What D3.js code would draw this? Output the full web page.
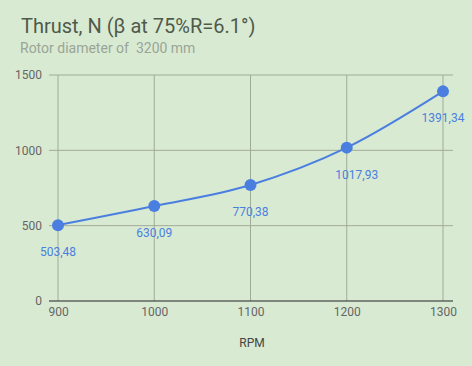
<!DOCTYPE html>
<html>
<head>
<meta charset="utf-8">
<script src="https://cdn.jsdelivr.net/npm/d3@7"></script>
<style>
  body { margin: 0; background: #d9ead3; }
  svg { display: block; font-family: Roboto, sans-serif; }
  text { white-space: pre; }
</style>
</head>
<body>
<svg width="472" height="366"></svg>
<script>
// data
let rpm = [900, 1000, 1100, 1200, 1300];
let thrust = [503.48, 630.09, 770.38, 1017.93, 1391.34];
let thrustLabels = ['503,48', '630,09', '770,38', '1017,93', '1391,34'];
let yTicks = [0, 500, 1000, 1500];
let xTicks = [900, 1000, 1100, 1200, 1300];

let svg = d3.select('svg');
let plotLeft = 58, plotRight = 443, plotTop = 75, plotBottom = 301;

let xScale = d3.scaleLinear().domain([900, 1300]).range([plotLeft, plotRight]);
let yScale = d3.scaleLinear().domain([0, 1500]).range([plotBottom, plotTop]);

svg.append('rect').attr('width', 472).attr('height', 366).attr('fill', '#d9ead3');

// title
svg.append('text').attr('x', 21).attr('y', 33)
  .attr('font-size', 20).attr('fill', '#4f5a4b')
  .text('Thrust, N (β at 75%R=6.1°)');
svg.append('text').attr('x', 20).attr('y', 53)
  .attr('font-size', 14).attr('fill', '#9aa596')
  .text('Rotor diameter of  3200 mm');

// grid
let grid = svg.append('g');
grid.selectAll('.hg').data(yTicks.filter(d => d > 0)).enter().append('line')
  .attr('x1', 49).attr('x2', 453)
  .attr('y1', d => yScale(d)).attr('y2', d => yScale(d))
  .attr('stroke', '#a0ab98').attr('stroke-width', 1);
grid.selectAll('.vg').data(xTicks).enter().append('line')
  .attr('x1', d => xScale(d)).attr('x2', d => xScale(d))
  .attr('y1', plotTop).attr('y2', plotBottom)
  .attr('stroke', '#a0ab98').attr('stroke-width', 1);

// zero axis line
svg.append('line').attr('x1', 49).attr('x2', 453)
  .attr('y1', yScale(0)).attr('y2', yScale(0))
  .attr('stroke', '#222').attr('stroke-width', 1.2);

// y axis
let yAxis = svg.append('g').attr('transform', 'translate(' + plotLeft + ',0)')
  .call(d3.axisLeft(yScale).tickValues(yTicks).tickFormat(d3.format('d')).tickSize(0).tickPadding(16));
yAxis.select('.domain').remove();
yAxis.selectAll('text').attr('font-size', 12).attr('fill', '#666').attr('font-family', 'Roboto, sans-serif');

// x axis
let xAxis = svg.append('g').attr('transform', 'translate(0,' + plotBottom + ')')
  .call(d3.axisBottom(xScale).tickValues(xTicks).tickFormat(d3.format('d')).tickSize(0).tickPadding(6));
xAxis.select('.domain').remove();
xAxis.selectAll('text').attr('font-size', 12).attr('fill', '#666').attr('font-family', 'Roboto, sans-serif');

svg.append('text').attr('x', 252).attr('y', 347).attr('text-anchor', 'middle')
  .attr('font-size', 12).attr('fill', '#444').text('RPM');

// line
let pts = rpm.map((r, i) => [r, thrust[i]]);
let line = d3.line().x(d => xScale(d[0])).y(d => yScale(d[1])).curve(d3.curveMonotoneX);
svg.append('path').datum(pts).attr('d', line)
  .attr('fill', 'none').attr('stroke', '#4a7fe0').attr('stroke-width', 2);

svg.selectAll('.dot').data(pts).enter().append('circle')
  .attr('cx', d => xScale(d[0])).attr('cy', d => yScale(d[1])).attr('r', 6)
  .attr('fill', '#4a7fe0');

svg.selectAll('.lbl').data(pts).enter().append('text')
  .attr('x', (d, i) => xScale(d[0]) + (i === 3 ? 10 : 0))
  .attr('y', d => yScale(d[1]) + 31)
  .attr('text-anchor', 'middle').attr('font-size', 12).attr('fill', '#4a7fe0')
  .text((d, i) => thrustLabels[i]);
</script>
</body>
</html>
